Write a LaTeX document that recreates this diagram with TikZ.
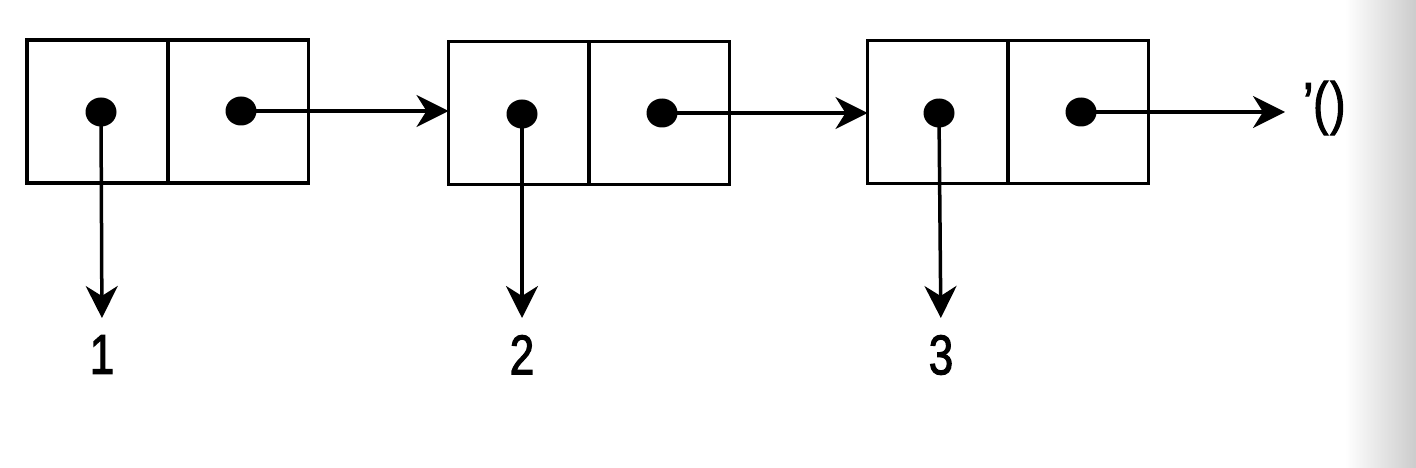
\documentclass[tikz,border=0pt]{standalone}
\usepackage{fontspec}
\newfontfamily\narrowfont[FakeStretch=0.78,FakeBold=2]{Liberation Sans}
\usetikzlibrary{arrows.meta}
\usetikzlibrary{shapes.geometric}
\tikzset{
  cell/.style={draw, line width=3.5pt, minimum width=141pt, minimum height=143pt, inner sep=0pt, outer sep=0pt},
  dotmark/.style={fill=black, ellipse, minimum width=31pt, minimum height=29pt, inner sep=0pt},
  arr/.style={line width=3.5pt, -{Stealth[length=32pt, width=32pt, inset=10pt]}},
  lbl/.style={font=\narrowfont\fontsize{56}{60}\selectfont, inner sep=0pt, anchor=north}
}
\begin{document}
\begin{tikzpicture}[x=1pt, y=-1pt]
\useasboundingbox (0,0) rectangle (1416,468);
\fill[white] (0,0) rectangle (1416,468);
\shade[left color=white, right color=black!20] (1345,0) rectangle (1416,468);
% cells
\node[cell] (a1) at (97.5,111.5) {};
\node[cell] (d1) at (238,111.5) {};
\node[cell] (a2) at (519,113) {};
\node[cell] (d2) at (659,113) {};
\node[cell] (a3) at (938,112) {};
\node[cell] (d3) at (1078,112) {};
% dots
\node[dotmark] (p1) at (101,112) {};
\node[dotmark] (q1) at (241,111) {};
\node[dotmark] (p2) at (522,114) {};
\node[dotmark] (q2) at (662,113) {};
\node[dotmark] (p3) at (939,113) {};
\node[dotmark] (q3) at (1081,112) {};
% labels
\node[lbl] (n1) at (102,335) {1};
\node[lbl] (n2) at (522,335) {2};
\node[lbl] (n3) at (941,335) {3};
\node[font=\narrowfont\fontsize{58}{60}\selectfont, inner sep=0pt, anchor=west] (nil) at (1303,108) {’(\kern2pt)};
% connectors
\draw[arr] (p1.center) -- (n1.north) [shorten >=17pt];
\draw[arr] (p2.center) -- (n2.north) [shorten >=17pt];
\draw[arr] (p3.center) -- (n3.north) [shorten >=17pt];
\draw[arr] (q1.center) -- (a2.west |- q1.center);
\draw[arr] (q2.center) -- (a3.west |- q2.center);
\draw[arr] (q3.center) -- ([xshift=-18pt]nil.west |- q3.center);
\end{tikzpicture}
\end{document}
